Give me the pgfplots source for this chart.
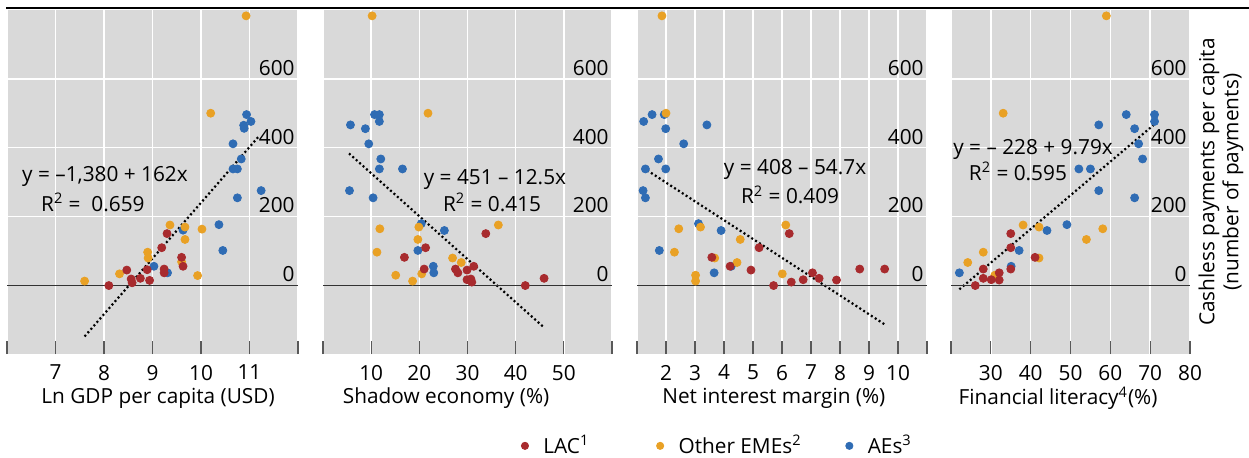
\documentclass[border=0pt]{standalone}
\usepackage{fontspec}
\setmainfont{Open Sans}
\usepackage{pgfplots}
\pgfplotsset{compat=1.18}

\definecolor{cLAC}{HTML}{A82B2E}
\definecolor{cEME}{HTML}{E9A125}
\definecolor{cAE}{HTML}{2F6CB4}
\definecolor{bg}{HTML}{D9D9D9}

\pgfplotsset{
  panel/.style={
    scale only axis, height=172pt,
    ymin=-200, ymax=800,
    axis background/.style={fill=bg},
    axis line style={draw=none},
    xmajorgrids=true, ymajorgrids=true,
    major grid style={white, line width=0.7pt},
    ytick={0,200,400,600},
    ytick style={draw=none},
    yticklabel pos=right,
    yticklabel style={anchor=south east, inner sep=1.5pt},
    xtick pos=bottom, tick align=inside,
    major tick length=6.5pt,
    xtick style={color=black!65, line width=0.6pt},
    xticklabel style={yshift=-2pt},
    /pgf/number format/assume math mode=true,
    /pgf/number format/1000 sep={},
    xlabel style={anchor=center, yshift=0pt},
    clip=false,
  },
  pts/.style={only marks, mark=*, mark size=2pt, mark options={draw=#1, fill=#1}},
  trend/.style={no marks, black, line width=1.1pt, dash pattern=on 1pt off 1.3pt},
}

\begin{document}
\begin{tikzpicture}[font=\fontsize{10.4}{12}\selectfont]
\useasboundingbox (0,0) rectangle (624.5pt,228.5pt);
\draw[line width=0.9pt] (3pt,224.5pt) -- (624.5pt,224.5pt);

% panel 1
\begin{axis}[panel, at={(3.5pt,51.5pt)}, anchor=south west, width=145.5pt,
  xmin=6, xmax=12, xtick={6,...,12}, xticklabels={,7,8,9,10,11,},
  xlabel={Ln GDP per capita (USD)},
  xlabel style={at={(axis description cs:0.519,0)}, yshift=-22pt}]
\addplot[pts=cAE] coordinates {(10.94,496)(11.03,476)(10.88,465)(10.89,456)(10.66,411)(10.83,367)(10.66,338)(10.75,338)(11.24,275)(10.75,254)(10.37,176)(9.63,160)(10.45,101)(9.03,55)(9.31,36)};
\addplot[pts=cEME] coordinates {(10.93,783)(10.20,500)(9.36,175)(9.67,169)(10.02,163)(9.67,133)(8.90,96)(8.91,79)(9.60,68)(8.32,33)(9.93,28)(7.60,12)};
\addplot[pts=cLAC] coordinates {(9.30,150)(9.19,109)(9.60,81)(9.63,55)(8.47,44)(8.89,45)(9.24,47)(9.24,36)(8.75,20)(8.56,18)(8.58,7)(8.94,14)(8.10,-1)};
\addplot[trend] coordinates {(7.6,-149)(11.2,434)};
\draw[black!80, line width=0.7pt] (axis cs:6,0) -- (axis cs:12,0);
\node at (axis cs:8.02,317) {y = –1,380 + 162x};
\node at (axis cs:7.77,241) {R\textsuperscript{2} =\ \ 0.659};
\end{axis}

% panel 2
\begin{axis}[panel, at={(161.5pt,51.5pt)}, anchor=south west, width=144.5pt,
  xmin=0, xmax=60, xtick={0,10,...,60}, xticklabels={,10,20,30,40,50,},
  xlabel={Shadow economy (\%)},
  xlabel style={at={(axis description cs:0.426,0)}, yshift=-22pt},
  legend columns=3,
  legend style={at={(0.685,-0.267)}, anchor=west, draw=none, fill=none, inner sep=0pt,
    /tikz/every even column/.append style={column sep=0pt}},
  legend image code/.code={\draw[#1, mark size=1.8pt] plot coordinates {(0pt,0pt)};},
  legend cell align=left]
\addlegendimage{only marks, mark=*, cLAC}
\addlegendentry{\makebox[60pt][l]{\ \ LAC\textsuperscript{1}}}
\addlegendimage{only marks, mark=*, cEME}
\addlegendentry{\makebox[87pt][l]{\ \ Other EMEs\textsuperscript{2}}}
\addlegendimage{only marks, mark=*, cAE}
\addlegendentry{\ \ AEs\textsuperscript{3}}
\addplot[pts=cAE] coordinates {(10.7,496)(11.7,496)(11.7,476)(5.7,466)(8.8,455)(9.5,411)(12.0,367)(11.7,338)(16.5,338)(5.5,275)(10.4,254)(20.4,179)(25.2,159)(19.7,101)(22.9,55)(23.0,36)};
\addplot[pts=cEME] coordinates {(10.2,783)(21.8,500)(36.4,175)(11.8,164)(19.9,169)(19.7,133)(11.2,96)(26.9,79)(28.7,66)(15.1,29)(20.5,33)(18.6,12)};
\addplot[pts=cLAC] coordinates {(33.8,150)(21.3,109)(16.9,81)(31.3,55)(27.5,47)(21.0,47)(29.9,44)(28.0,36)(45.9,20)(29.9,16)(30.7,18)(30.9,9)(42.0,-1)};
\addplot[trend] coordinates {(5.4,383)(45.9,-123)};
\draw[black!80, line width=0.7pt] (axis cs:0,0) -- (axis cs:60,0);
\node at (axis cs:35.7,308) {y = 451 – 12.5x};
\node at (axis cs:35.1,241) {R\textsuperscript{2} = 0.415};
\end{axis}

% panel 3
\begin{axis}[panel, at={(318.5pt,51.5pt)}, anchor=south west, width=145pt,
  xmin=1, xmax=11, xtick={1,...,11}, xticklabels={,2,3,4,5,6,7,8,9,10,},
  xlabel={Net interest margin (\%)},
  xlabel style={at={(axis description cs:0.472,0)}, yshift=-22pt}]
\addplot[pts=cAE] coordinates {(1.52,496)(1.94,496)(1.23,476)(3.41,466)(1.99,455)(2.61,411)(1.74,367)(1.29,338)(1.99,338)(1.21,275)(1.29,254)(3.12,179)(3.90,159)(1.77,101)(4.25,55)(3.66,36)};
\addplot[pts=cEME] coordinates {(1.86,783)(2.00,500)(6.13,175)(2.44,164)(3.19,169)(4.56,133)(2.29,96)(3.68,79)(4.45,66)(3.02,29)(6.01,33)(3.02,12)};
\addplot[pts=cLAC] coordinates {(6.25,150)(5.21,109)(3.58,81)(4.21,55)(4.93,44)(8.68,47)(9.54,47)(7.05,36)(7.28,20)(6.73,16)(7.88,15)(6.32,9)(5.71,-1)};
\addplot[trend] coordinates {(1.35,334)(9.54,-114)};
\draw[black!80, line width=0.7pt] (axis cs:1,0) -- (axis cs:11,0);
\node at (axis cs:6.45,337) {y = 408 – 54.7x};
\node at (axis cs:6.28,262) {R\textsuperscript{2} = 0.409};
\end{axis}

% panel 4
\begin{axis}[panel, at={(475.5pt,51.5pt)}, anchor=south west, width=119.5pt,
  xmin=20, xmax=80, xtick={20,30,...,80}, xticklabels={,30,40,50,60,70,80},
  xlabel={Financial literacy\textsuperscript{4}(\%)},
  xlabel style={at={(axis description cs:0.448,0)}, yshift=-22pt}]
\addplot[pts=cAE] coordinates {(64.0,496)(71.1,496)(71.1,476)(57.1,466)(66.1,455)(67.1,411)(68.1,367)(52.1,338)(55.0,338)(57.1,275)(66.1,254)(49.1,176)(44.1,159)(37.1,101)(35.1,55)(22.1,36)};
\addplot[pts=cEME] coordinates {(59.0,783)(33.1,500)(38.1,175)(42.1,169)(58.1,164)(54.0,133)(28.1,96)(42.1,79)(24.2,66)(31.0,29)};
\addplot[pts=cLAC] coordinates {(35.0,150)(35.0,109)(41.1,81)(28.1,47)(35.0,47)(32.1,36)(28.1,20)(30.1,16)(32.1,15)(26.1,-1)};
\addplot[trend] coordinates {(22.1,-12)(70.8,465)};
\draw[black!80, line width=0.7pt] (axis cs:20,0) -- (axis cs:80,0);
\node at (axis cs:40.6,395) {y = – 228 + 9.79x};
\node at (axis cs:36.8,331) {R\textsuperscript{2} = 0.595};
\end{axis}

\node[rotate=90, align=center] at (610.5pt,137.5pt) {Cashless payments per capita\\(number of payments)};
\end{tikzpicture}
\end{document}
